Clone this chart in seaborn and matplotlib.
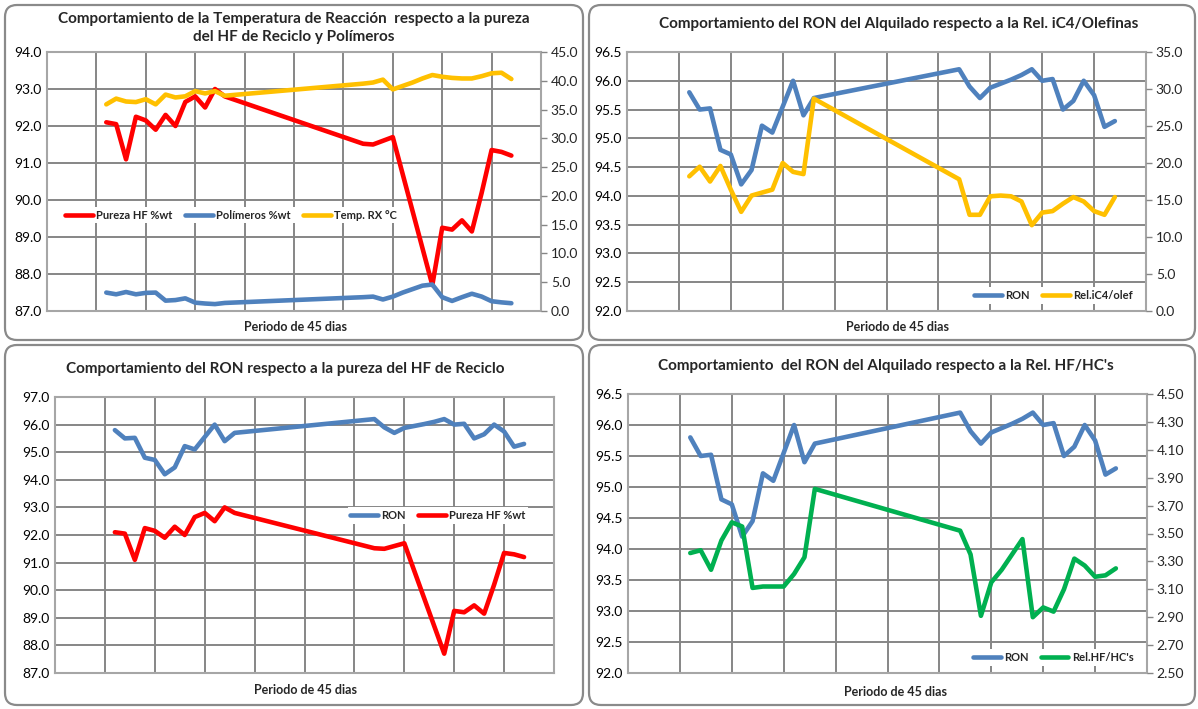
import numpy as np
import pandas as pd
import matplotlib
matplotlib.use("Agg")
import matplotlib.pyplot as plt
from matplotlib.patches import FancyBboxPatch
from matplotlib.ticker import FormatStrFormatter
import seaborn as sns

# dias con dato (hay un hueco entre el dia 18 y el 32)
dias = [6, 7, 8, 9, 10, 11, 12, 13, 14, 15, 16, 17, 18,
        32, 33, 34, 35, 36, 37, 38, 39, 40, 41, 42, 43, 44, 45, 46, 47]

pureza_hf = [92.1, 92.05, 91.1, 92.25, 92.15, 91.9, 92.3, 92.0, 92.65, 92.8, 92.5, 93.0, 92.8,
             91.52, 91.5, 91.6, 91.7, np.nan, np.nan, np.nan, 87.7, 89.25, 89.2, 89.45, 89.15,
             90.2, 91.35, 91.3, 91.2]
polimeros = [3.2, 2.9, 3.3, 2.9, 3.15, 3.2, 1.8, 1.9, 2.2, 1.45, 1.3, 1.2, 1.4,
             2.4, 2.5, 2.0, 2.5, 3.2, 3.8, 4.4, 4.6, 2.4, 1.75, 2.4, 3.0, 2.5, 1.7, 1.5, 1.35]
temp_rx = [35.9, 36.9, 36.4, 36.3, 36.8, 35.9, 37.6, 37.1, 37.3, 38.2, 37.8, 38.2, 37.4,
           39.5, 39.7, 40.2, 38.5, 39.1, 39.7, 40.4, 41.0, 40.7, 40.5, 40.4, 40.4, 40.8, 41.3,
           41.4, 40.3]
ron = [95.8, 95.5, 95.52, 94.8, 94.72, 94.2, 94.45, 95.22, 95.1, 95.55, 96.0, 95.4, 95.7,
       96.2, 95.9, 95.7, 95.88, 95.95, 96.02, 96.1, 96.2, 96.0, 96.03, 95.5, 95.65, 96.0,
       95.75, 95.2, 95.3]
rel_ic4_olef = [18.2, 19.5, 17.5, 19.6, 16.4, 13.4, 15.6, 16.0, 16.4, 20.0, 18.8, 18.5, 28.7,
                17.8, 13.0, 13.0, 15.5, 15.6, 15.5, 14.8, 11.6, 13.3, 13.5, 14.5, 15.4, 14.8,
                13.5, 13.0, 15.4]
rel_hf_hc = [3.36, 3.38, 3.24, 3.45, 3.58, 3.55, 3.11, 3.12, 3.12, 3.12, 3.21, 3.33, 3.82,
             3.52, 3.35, 2.91, 3.15, 3.24, 3.35, 3.46, 2.90, 2.97, 2.94, 3.10, 3.32, 3.27,
             3.19, 3.20, 3.25]

titulos = ["Comportamiento de la Temperatura de Reacción  respecto a la pureza\ndel HF de Reciclo y Polímeros",
           "Comportamiento del RON del Alquilado respecto a la Rel. iC4/Olefinas",
           "Comportamiento del RON respecto a la pureza del HF de Reciclo",
           "Comportamiento  del RON del Alquilado respecto a la Rel. HF/HC's"]
xlabel = "Periodo de 45 dias"

ROJO = "#FF0000"
AZUL = "#4F81BD"
AMARILLO = "#FFC000"
VERDE = "#00B050"
GRIS = "#868686"

sns.set_style("white")
plt.rcParams["font.family"] = ["Lato", "DejaVu Sans"]

W, H = 1198, 709
fig = plt.figure(figsize=(W / 100, H / 100), dpi=100)


def px_axes(left, right, top, bottom):
    return fig.add_axes([left / W, 1 - bottom / H, (right - left) / W, (bottom - top) / H])


def marco(x0, y0, x1, y1):
    box = FancyBboxPatch((x0 / 100, (H - y1) / 100), (x1 - x0) / 100, (y1 - y0) / 100,
                         boxstyle="round,pad=0,rounding_size=0.12",
                         transform=fig.dpi_scale_trans, fill=False,
                         edgecolor="#8A8A8A", linewidth=1.6)
    fig.add_artist(box)


def serie(ax, valores, color, nombre):
    s = pd.DataFrame({"dia": dias, "valor": valores}).dropna()
    sns.lineplot(data=s, x="dia", y="valor", ax=ax, color=color, linewidth=3.3,
                 label=nombre, sort=False, solid_capstyle="round", solid_joinstyle="round")


def estilo(ax, ylim, yticks, fmt):
    ax.set_xlim(0, 50)
    ax.set_xticks(range(0, 51, 5))
    ax.set_xticklabels([])
    ax.set_ylim(*ylim)
    ax.set_yticks(yticks)
    ax.yaxis.set_major_formatter(FormatStrFormatter(fmt))
    ax.grid(True, color=GRIS, linewidth=1.4)
    ax.tick_params(axis="both", length=0, labelsize=10, colors="black", pad=4)
    for sp in ax.spines.values():
        sp.set_color("#A6A6A6")
        sp.set_linewidth(1.5)
    ax.set_xlabel("")
    ax.set_ylabel("")


def derecho(ax2, ylim, yticks, fmt):
    ax2.set_ylim(*ylim)
    ax2.set_yticks(yticks)
    ax2.yaxis.set_major_formatter(FormatStrFormatter(fmt))
    ax2.grid(False)
    ax2.tick_params(axis="y", length=4, width=1, color=GRIS, labelsize=10, pad=3)
    for sp in ax2.spines.values():
        sp.set_visible(False)
    ax2.set_ylabel("")


def leyenda(ax_h, axes, loc, anchor):
    h, l = [], []
    for a in axes:
        hh, ll = a.get_legend_handles_labels()
        h += hh
        l += ll
        if a.get_legend() is not None:
            a.get_legend().remove()
    leg = ax_h.legend(h, l, loc=loc, bbox_to_anchor=anchor, ncol=len(h), frameon=True,
                      framealpha=1, edgecolor="none", fancybox=False,
                      prop={"weight": "bold", "size": 8}, handlelength=2.5,
                      handletextpad=0.3, columnspacing=1.1, borderpad=0.25)
    for line in leg.get_lines():
        line.set_linewidth(3.3)


# marcos de los cuatro graficos
marco(5, 5, 583, 340)
marco(589, 5, 1195, 340)
marco(5, 345, 583, 705)
marco(589, 345, 1195, 705)

# 1) Temperatura, pureza HF y polimeros
ax1 = px_axes(47, 541, 52, 311)
ax1b = ax1.twinx()
serie(ax1, pureza_hf, ROJO, "Pureza HF %wt")
serie(ax1b, polimeros, AZUL, "Polímeros %wt")
serie(ax1b, temp_rx, AMARILLO, "Temp. RX °C")
estilo(ax1, (87, 94), np.arange(87, 94.01, 1), "%.1f")
derecho(ax1b, (0, 45), np.arange(0, 45.01, 5), "%.1f")
leyenda(ax1b, [ax1, ax1b], "center left", (0.02, 0.37))

# 2) RON vs iC4/olefinas
ax2 = px_axes(627, 1146, 52, 311)
ax2b = ax2.twinx()
serie(ax2, ron, AZUL, "RON")
serie(ax2b, rel_ic4_olef, AMARILLO, "Rel.iC4/olef")
estilo(ax2, (92, 96.5), np.arange(92, 96.51, 0.5), "%.1f")
derecho(ax2b, (0, 35), np.arange(0, 35.01, 5), "%.1f")
leyenda(ax2b, [ax2, ax2b], "center right", (0.99, 0.06))

# 3) RON vs pureza HF
ax3 = px_axes(55, 554, 397, 673)
serie(ax3, ron, AZUL, "RON")
serie(ax3, pureza_hf, ROJO, "Pureza HF %wt")
estilo(ax3, (87, 97), np.arange(87, 97.01, 1), "%.1f")
leyenda(ax3, [ax3], "center right", (0.96, 0.57))

# 4) RON vs HF/HC
ax4 = px_axes(628, 1147, 394, 673)
ax4b = ax4.twinx()
serie(ax4, ron, AZUL, "RON")
serie(ax4b, rel_hf_hc, VERDE, "Rel.HF/HC's")
estilo(ax4, (92, 96.5), np.arange(92, 96.51, 0.5), "%.1f")
derecho(ax4b, (2.5, 4.5), np.arange(2.5, 4.501, 0.2), "%.2f")
leyenda(ax4b, [ax4, ax4b], "center right", (0.99, 0.055))

# titulos y etiquetas del eje x
tkw = dict(ha="center", va="center", fontsize=11, fontweight="bold")
fig.text(294 / W, 1 - 28 / H, titulos[0], linespacing=1.45, **tkw)
fig.text(899 / W, 1 - 24 / H, titulos[1], **tkw)
fig.text(285 / W, 1 - 369 / H, titulos[2], **tkw)
fig.text(886 / W, 1 - 366 / H, titulos[3], **tkw)

xkw = dict(ha="center", va="center", fontsize=9, fontweight="bold")
fig.text(295 / W, 1 - 327 / H, xlabel, **xkw)
fig.text(898 / W, 1 - 327 / H, xlabel, **xkw)
fig.text(305 / W, 1 - 690 / H, xlabel, **xkw)
fig.text(896 / W, 1 - 692 / H, xlabel, **xkw)

fig.savefig("out.png", dpi=100)
